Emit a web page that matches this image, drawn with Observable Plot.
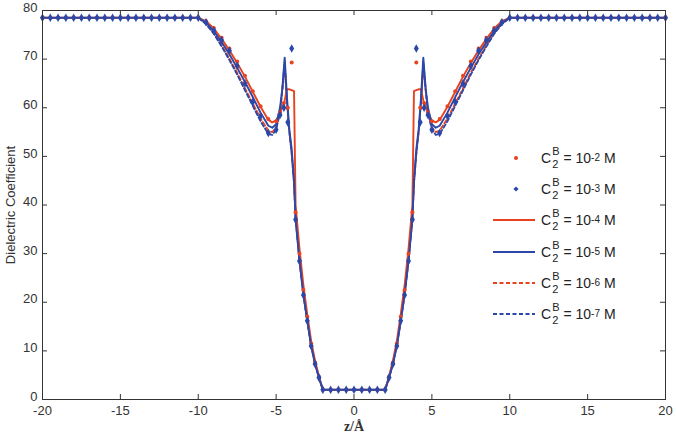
<!DOCTYPE html>
<html>
<head>
<meta charset="utf-8">
<script src="https://cdn.jsdelivr.net/npm/d3@7"></script>
<script src="https://cdn.jsdelivr.net/npm/@observablehq/plot@0.6"></script>
<style>
  html, body { margin: 0; padding: 0; background: #fff; }
  #wrap { position: relative; width: 676px; height: 438px; }
  g[aria-label="x-axis label"] text { font-family: "Liberation Serif", "DejaVu Serif", serif; font-weight: bold; font-size: 14px; }
  #legend { position: absolute; left: 488px; top: 142px; font-family: "Liberation Sans", Arial, sans-serif; font-size: 14px; color: #222; }
  .row { height: 31.3px; display: flex; align-items: center; }
  .row svg { width: 48px; height: 14px; flex: none; }
  .cb { display: inline-flex; flex-direction: column; font-size: 11px; line-height: 13px; margin-left: 1px; margin-right: 4px; }
  .cb span { display: block; height: 13px; }
  .lbl { display: flex; align-items: center; margin-left: 5px; white-space: nowrap; }
  sup { font-size: 10px; vertical-align: 6px; line-height: 0; }
</style>
</head>
<body>
<div id="wrap"><div id="chart"></div><div id="legend"></div></div>
<script>
// ---- tick labels / series names ----
const xTicks = [-20, -15, -10, -5, 0, 5, 10, 15, 20];
const yTicks = [0, 10, 20, 30, 40, 50, 60, 70, 80];
const seriesNames = ["-2", "-3", "-4", "-5", "-6", "-7"]; // exponents of C2B (M)

// ---- line series (z in Å) ----
const zLine = [-20, -10, -9.5, -9, -8.5, -8, -7.5, -7, -6.5, -6, -5.5, -5.25, -5, -4.75, -4.6, -4.45, -4.3, -4.15, -4.0, -3.85, -3.75, -3.5, -3.25, -3.0, -2.75, -2.5, -2.25, -2.0,
               2.0, 2.25, 2.5, 2.75, 3.0, 3.25, 3.5, 3.75, 3.85, 4.0, 4.15, 4.3, 4.45, 4.6, 4.75, 5, 5.25, 5.5, 6, 6.5, 7, 7.5, 8, 8.5, 9, 9.5, 10, 20];
// C2B = 1e-4 M (red solid)
const eps4 = [78.5, 78.5, 77.8, 76.3, 74.2, 71.8, 69.2, 66.4, 63.3, 60.2, 57.5, 57.0, 57.4, 58.8, 60.2, 61.5, 63.8, 63.8, 63.6, 63.4, 40.0, 31.0, 23.5, 17.5, 12.0, 8.0, 4.8, 2.0,
              2.0, 4.8, 8.0, 12.0, 17.5, 23.5, 31.0, 40.0, 63.4, 63.6, 63.8, 63.8, 61.5, 60.2, 58.8, 57.4, 57.0, 57.5, 60.2, 63.3, 66.4, 69.2, 71.8, 74.2, 76.3, 77.8, 78.5, 78.5];
// C2B = 1e-5 M (blue solid)
const eps5 = [78.5, 78.5, 77.5, 75.8, 73.5, 71.0, 68.2, 65.3, 62.2, 59.0, 56.3, 55.9, 56.6, 60.0, 64.0, 70.3, 62.0, 55.5, 51.5, 45.0, 37.0, 28.5, 21.5, 16.2, 11.0, 7.3, 4.5, 2.0,
              2.0, 4.5, 7.3, 11.0, 16.2, 21.5, 28.5, 37.0, 45.0, 51.5, 55.5, 62.0, 70.3, 64.0, 60.0, 56.6, 55.9, 56.3, 59.0, 62.2, 65.3, 68.2, 71.0, 73.5, 75.8, 77.5, 78.5, 78.5];
// C2B = 1e-6 M (red dashed)
const eps6 = [78.5, 78.5, 77.3, 75.4, 72.9, 70.1, 67.2, 64.0, 60.9, 57.8, 55.3, 55.0, 55.9, 59.0, 63.5, 68.5, 61.0, 55.0, 50.5, 44.5, 37.5, 28.7, 21.8, 16.3, 11.2, 7.4, 4.5, 2.0,
              2.0, 4.5, 7.4, 11.2, 16.3, 21.8, 28.7, 37.5, 44.5, 50.5, 55.0, 61.0, 68.5, 63.5, 59.0, 55.9, 55.0, 55.3, 57.8, 60.9, 64.0, 67.2, 70.1, 72.9, 75.4, 77.3, 78.5, 78.5];
// C2B = 1e-7 M (blue dashed)
const eps7 = [78.5, 78.5, 77.2, 75.2, 72.6, 69.8, 66.8, 63.6, 60.4, 57.2, 54.6, 54.4, 55.5, 59.0, 64.0, 69.5, 61.0, 55.0, 50.5, 44.5, 37.2, 28.5, 21.5, 16.0, 11.0, 7.3, 4.5, 2.0,
              2.0, 4.5, 7.3, 11.0, 16.0, 21.5, 28.5, 37.2, 44.5, 50.5, 55.0, 61.0, 69.5, 64.0, 59.0, 55.5, 54.4, 54.6, 57.2, 60.4, 63.6, 66.8, 69.8, 72.6, 75.2, 77.2, 78.5, 78.5];

// ---- marker series (z in Å) ----
const zMark = [-20, -19.5, -19, -18.5, -18, -17.5, -17, -16.5, -16, -15.5, -15, -14.5, -14, -13.5, -13, -12.5, -12, -11.5, -11, -10.5, -10,
               -9.5, -9, -8.5, -8, -7.5, -7, -6.5, -6, -5.5, -5,
               -4.75, -4.5, -4.25, -4, -3.75, -3.5, -3.25, -3, -2.75, -2.5, -2.25, -2,
               -1.5, -1, -0.5, 0, 0.5, 1, 1.5,
               2, 2.25, 2.5, 2.75, 3, 3.25, 3.5, 3.75, 4, 4.25, 4.5, 4.75,
               5, 5.5, 6, 6.5, 7, 7.5, 8, 8.5, 9, 9.5,
               10, 10.5, 11, 11.5, 12, 12.5, 13, 13.5, 14, 14.5, 15, 15.5, 16, 16.5, 17, 17.5, 18, 18.5, 19, 19.5, 20];
// C2B = 1e-2 M (red dots)
const eps2 = [78.5, 78.5, 78.5, 78.5, 78.5, 78.5, 78.5, 78.5, 78.5, 78.5, 78.5, 78.5, 78.5, 78.5, 78.5, 78.5, 78.5, 78.5, 78.5, 78.5, 78.5,
              77.8, 76.4, 74.4, 72.2, 69.5, 66.6, 63.4, 60.3, 57.7, 57.2,
              59.0, 61.0, 60.0, 69.3, 38.5, 30.0, 22.5, 17.0, 11.5, 7.6, 4.7, 2.0,
              2.0, 2.0, 2.0, 2.0, 2.0, 2.0, 2.0,
              2.0, 4.7, 7.6, 11.5, 17.0, 22.5, 30.0, 38.5, 69.3, 60.0, 61.0, 59.0,
              57.2, 57.7, 60.3, 63.4, 66.6, 69.5, 72.2, 74.4, 76.4, 77.8,
              78.5, 78.5, 78.5, 78.5, 78.5, 78.5, 78.5, 78.5, 78.5, 78.5, 78.5, 78.5, 78.5, 78.5, 78.5, 78.5, 78.5, 78.5, 78.5, 78.5, 78.5];
// C2B = 1e-3 M (blue diamonds)
const eps3 = [78.5, 78.5, 78.5, 78.5, 78.5, 78.5, 78.5, 78.5, 78.5, 78.5, 78.5, 78.5, 78.5, 78.5, 78.5, 78.5, 78.5, 78.5, 78.5, 78.5, 78.5,
              77.6, 75.9, 73.9, 71.7, 68.6, 65.0, 61.2, 58.3, 54.8, 55.5,
              58.5, 60.0, 57.0, 72.2, 37.0, 28.5, 21.5, 16.2, 11.0, 7.3, 4.5, 2.0,
              2.0, 2.0, 2.0, 2.0, 2.0, 2.0, 2.0,
              2.0, 4.5, 7.3, 11.0, 16.2, 21.5, 28.5, 37.0, 72.2, 57.0, 60.0, 58.5,
              55.5, 54.8, 58.3, 61.2, 65.0, 68.6, 71.7, 73.9, 75.9, 77.6,
              78.5, 78.5, 78.5, 78.5, 78.5, 78.5, 78.5, 78.5, 78.5, 78.5, 78.5, 78.5, 78.5, 78.5, 78.5, 78.5, 78.5, 78.5, 78.5, 78.5, 78.5];

const RED = "#e8421f";
const BLUE = "#2b48a8";
const AX = "#333";

const lineData = (vals) => zLine.map((z, i) => ({z, eps: vals[i]}));
const markData = (vals) => zMark.map((z, i) => ({z, eps: vals[i]}));

const W = 676, H = 438, mL = 42, mR = 11, mT = 10, mB = 39;
const fw = W - mL - mR, fh = H - mT - mB, tk = 5;

const chart = Plot.plot({
  width: W, height: H,
  marginLeft: mL, marginRight: mR, marginTop: mT, marginBottom: mB,
  x: {domain: [-20, 20]},
  y: {domain: [0, 80]},
  style: {fontFamily: "'Liberation Sans', Arial, sans-serif", fontSize: "13px", color: "#333", background: "#fff"},
  marks: [
    Plot.lineY(lineData(eps6), {x: "z", y: "eps", stroke: RED, strokeWidth: 1.8, strokeDasharray: "4,2.5"}),
    Plot.lineY(lineData(eps7), {x: "z", y: "eps", stroke: BLUE, strokeWidth: 1.8, strokeDasharray: "4,2.5"}),
    Plot.lineY(lineData(eps4), {x: "z", y: "eps", stroke: RED, strokeWidth: 1.9}),
    Plot.lineY(lineData(eps5), {x: "z", y: "eps", stroke: BLUE, strokeWidth: 1.9}),
    Plot.dot(markData(eps2), {x: "z", y: "eps", fill: RED, r: 2, symbol: "circle"}),
    Plot.dot(markData(eps3), {x: "z", y: "eps", fill: BLUE, r: 2.6, symbol: "diamond"}),
    Plot.frame({stroke: AX, strokeWidth: 1}),
    Plot.ruleX(xTicks, {stroke: AX, insetTop: fh - tk}),
    Plot.ruleX(xTicks, {stroke: AX, insetBottom: fh - tk}),
    Plot.ruleY(yTicks, {stroke: AX, insetRight: fw - tk}),
    Plot.ruleY(yTicks, {stroke: AX, insetLeft: fw - tk}),
    Plot.axisX({ticks: xTicks, tickSize: 0, tickPadding: 6, tickFormat: d => String(d),
                label: "z/Å", labelAnchor: "center", labelArrow: "none", labelOffset: 31}),
    Plot.axisY({ticks: yTicks, tickSize: 0, tickPadding: 5, dy: -3, tickFormat: d => String(d),
                label: "Dielectric Coefficient", labelAnchor: "center", labelArrow: "none", labelOffset: 37})
  ]
});
document.getElementById("chart").appendChild(chart);

// ---- legend ----
const legend = document.getElementById("legend");
const samples = [
  `<circle cx="28" cy="7" r="2" fill="${RED}"/>`,
  `<path d="M28,4.4 L30.6,7 L28,9.6 L25.4,7 Z" fill="${BLUE}"/>`,
  `<line x1="5" x2="47" y1="7" y2="7" stroke="${RED}" stroke-width="1.9"/>`,
  `<line x1="5" x2="47" y1="7" y2="7" stroke="${BLUE}" stroke-width="1.9"/>`,
  `<line x1="5" x2="47" y1="7" y2="7" stroke="${RED}" stroke-width="1.9" stroke-dasharray="4,2.5"/>`,
  `<line x1="5" x2="47" y1="7" y2="7" stroke="${BLUE}" stroke-width="1.9" stroke-dasharray="4,2.5"/>`
];
seriesNames.forEach((e, i) => {
  const row = document.createElement("div");
  row.className = "row";
  row.innerHTML = `<svg viewBox="0 0 48 14">${samples[i]}</svg>` +
    `<span class="lbl">C<span class="cb"><span>B</span><span>2</span></span>= 10<sup>${e}</sup>&nbsp;M</span>`;
  legend.appendChild(row);
});
</script>
</body>
</html>
